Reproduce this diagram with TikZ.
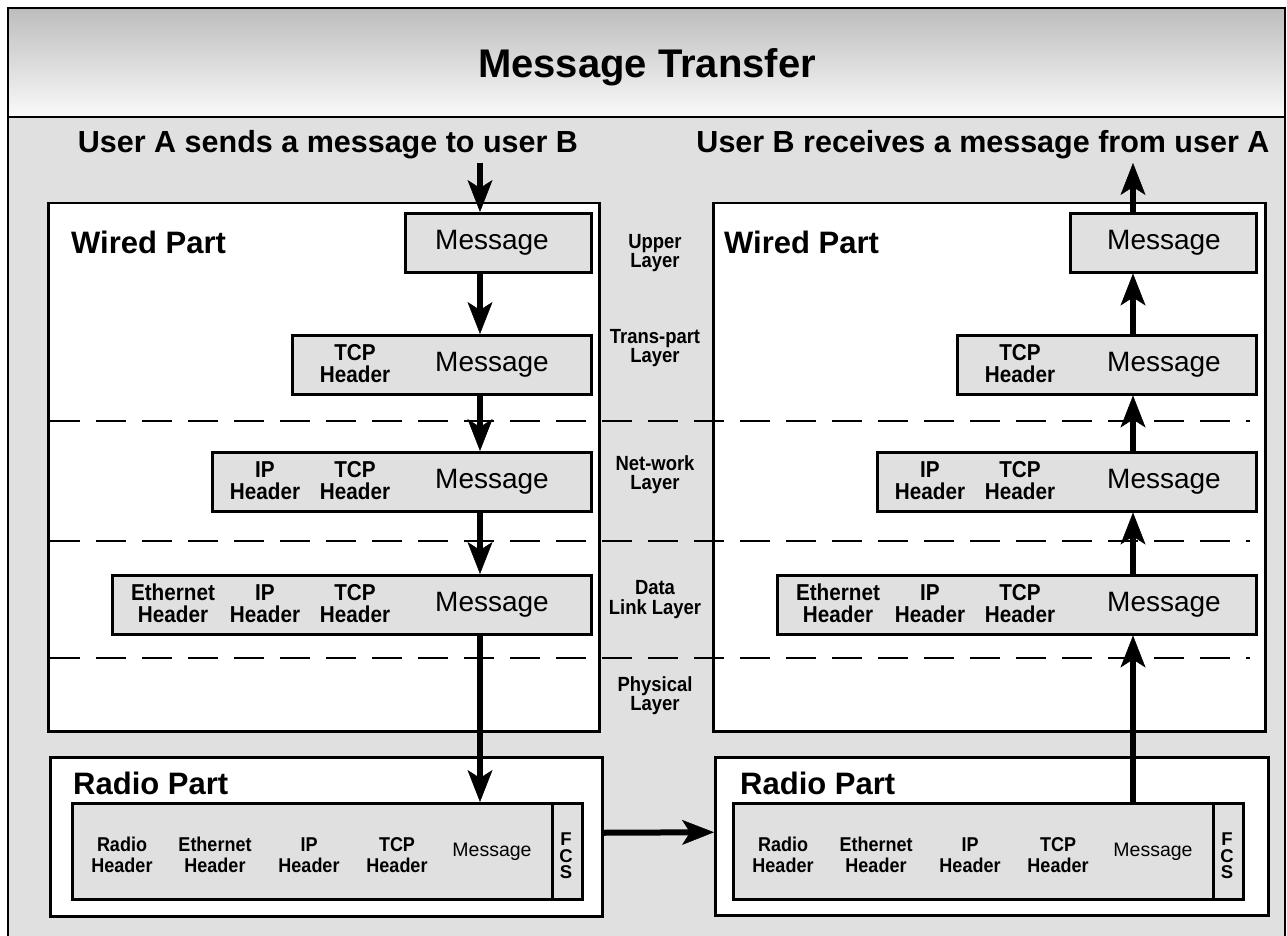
\documentclass[tikz,border=0pt]{standalone}
\usepackage{fontspec}
\setmainfont{Liberation Sans}
\newfontfamily\condsans[FakeStretch=0.9]{Liberation Sans}
\usetikzlibrary{arrows.meta,positioning}

\begin{document}
\begin{tikzpicture}[
    x=1pt, y=-1pt,
    partbox/.style={draw, line width=2.5pt, fill=white, inner sep=0pt, anchor=north west},
    pktbox/.style={draw, line width=2.5pt, fill=black!12, inner sep=0pt, anchor=north west},
    titletext/.style={font=\fontsize{40}{44}\selectfont\bfseries, inner sep=0pt},
    usertext/.style={font=\fontsize{30.5}{34}\selectfont\bfseries, inner sep=0pt},
    parttext/.style={font=\fontsize{31}{34}\selectfont\bfseries, inner sep=0pt},
    layertext/.style={font=\condsans\fontsize{20.5}{19.5}\selectfont\bfseries, align=center, inner sep=0pt},
    msgtext/.style={font=\fontsize{28}{30}\selectfont, inner sep=0pt},
    hdrtext/.style={font=\condsans\fontsize{23}{22}\selectfont\bfseries, align=center, inner sep=0pt},
    rmsgtext/.style={font=\fontsize{19.5}{21}\selectfont, inner sep=0pt},
    rhdrtext/.style={font=\condsans\fontsize{20}{20.5}\selectfont\bfseries, align=center, inner sep=0pt},
    fcstext/.style={font=\fontsize{18.5}{16.5}\selectfont\bfseries, align=center, inner sep=0pt},
    layerline/.style={line width=2.5pt, dash pattern=on 30pt off 16pt},
    bigarrow/.style={line width=6pt, -{Stealth[length=32pt, width=25pt, inset=8pt, line width=0.5pt]}}
]
\useasboundingbox (0,0) rectangle (1287,936);

% Background and frame
\fill[black!12] (8,117) rectangle (1285,940);
\shade[top color=black!26, bottom color=black!2] (8,8) rectangle (1285,117);
\draw[line width=2.5pt] (8,940) -- (8,8) -- (1285,8) -- (1285,940);
\draw[line width=2pt] (8,117) -- (1285,117);

% Titles
\node[titletext, anchor=base] (title) at (647,78) {Message Transfer};
\node[usertext, anchor=base] (usera) at (328,153) {User A sends a message to user B};
\node[usertext, anchor=base] (userb) at (983,153) {User B receives a message from user A};

% Wired and radio parts
\node[partbox, minimum width=551pt, minimum height=528pt] (lwired) at (47,202) {};
\node[partbox, minimum width=552pt, minimum height=528pt] (rwired) at (712,202) {};
\node[partbox, minimum width=552pt, minimum height=159pt] (lradio) at (49,756) {};
\node[partbox, minimum width=553pt, minimum height=158pt] (rradio) at (714,756) {};
\node[parttext, anchor=base west] (lwiredlbl) at (71,253) {Wired Part};
\node[parttext, anchor=base west] (rwiredlbl) at (724,253) {Wired Part};
\node[parttext, anchor=base west] (lradiolbl) at (73,794) {Radio Part};
\node[parttext, anchor=base west] (rradiolbl) at (740,794) {Radio Part};

% Layer borders
\foreach \y in {421,541,658} {
    \draw[layerline] (50,\y) -- (1250,\y);
}

% Layer names
\foreach \y/\txt [count=\i] in {253/{Upper\\Layer}, 348/{Trans-part\\Layer},
        474.5/{Net-work\\Layer}, 599.5/{Data\\Link Layer}, 695.5/{Physical\\Layer}} {
    \node[layertext] (layer\i) at (655,\y) {\txt};
}

% Packets in the wired part
\foreach \s/\dx/\mx in {l/0/492, r/665/1164} {
    \node[pktbox, minimum width=186pt, minimum height=59pt] (\s-up) at (404+\dx,212) {};
    \node[pktbox, minimum width=299pt, minimum height=59pt] (\s-tcp) at (291+\dx,334) {};
    \node[pktbox, minimum width=379pt, minimum height=59pt] (\s-ip) at (211+\dx,451) {};
    \node[pktbox, minimum width=479pt, minimum height=59pt] (\s-dl) at (111+\dx,574) {};
    \node[msgtext] (\s-up-msg) at (\mx,242.5) {Message};
    \node[msgtext] (\s-tcp-msg) at (\mx,364.5) {Message};
    \node[msgtext] (\s-ip-msg) at (\mx,481.5) {Message};
    \node[msgtext] (\s-dl-msg) at (\mx,604.5) {Message};
    \node[hdrtext] (\s-tcp-tcp) at (355+\dx,363.5) {TCP\\Header};
    \node[hdrtext] (\s-ip-tcp) at (355+\dx,480.5) {TCP\\Header};
    \node[hdrtext] (\s-ip-ip) at (265+\dx,480.5) {IP\\Header};
    \node[hdrtext] (\s-dl-tcp) at (355+\dx,603.5) {TCP\\Header};
    \node[hdrtext] (\s-dl-ip) at (265+\dx,603.5) {IP\\Header};
    \node[hdrtext] (\s-dl-eth) at (173+\dx,603.5) {Ethernet\\Header};
}

% Frames in the radio part
\foreach \s/\dx in {l/0, r/661} {
    \node[pktbox, minimum width=480pt, minimum height=96pt] (\s-frame) at (71+\dx,802) {};
    \node[pktbox, minimum width=30pt, minimum height=96pt] (\s-fcs) at (551+\dx,802) {};
    \node[rhdrtext] (\s-frame-radio) at (122+\dx,855) {Radio\\Header};
    \node[rhdrtext] (\s-frame-eth) at (215+\dx,855) {Ethernet\\Header};
    \node[rhdrtext] (\s-frame-ip) at (309+\dx,855) {IP\\Header};
    \node[rhdrtext] (\s-frame-tcp) at (397+\dx,855) {TCP\\Header};
    \node[rmsgtext] (\s-frame-msg) at (492+\dx,852) {Message};
    \node[fcstext] (\s-fcs-txt) at (566+\dx,856) {F\\C\\S};
}

% Sending side (down)
\coordinate (lsrc) at (480,163);
\draw[bigarrow] (lsrc) -- (lsrc |- l-up.north);
\draw[bigarrow] (lsrc |- l-up.south) -- (lsrc |- l-tcp.north);
\draw[bigarrow] (lsrc |- l-tcp.south) -- (lsrc |- l-ip.north);
\draw[bigarrow] (lsrc |- l-ip.south) -- (lsrc |- l-dl.north);
\draw[bigarrow] (lsrc |- l-dl.south) -- (lsrc |- l-frame.north);

% Radio link
\draw[bigarrow] ([yshift=4pt]lradio.east) -- ([yshift=4pt]rradio.west);

% Receiving side (up)
\coordinate (rdst) at (1133,163);
\draw[bigarrow] (rdst |- r-frame.north) -- (rdst |- r-dl.south);
\draw[bigarrow] (rdst |- r-dl.north) -- (rdst |- r-ip.south);
\draw[bigarrow] (rdst |- r-ip.north) -- (rdst |- r-tcp.south);
\draw[bigarrow] (rdst |- r-tcp.north) -- (rdst |- r-up.south);
\draw[bigarrow] (rdst |- r-up.north) -- (rdst);

\end{tikzpicture}
\end{document}
